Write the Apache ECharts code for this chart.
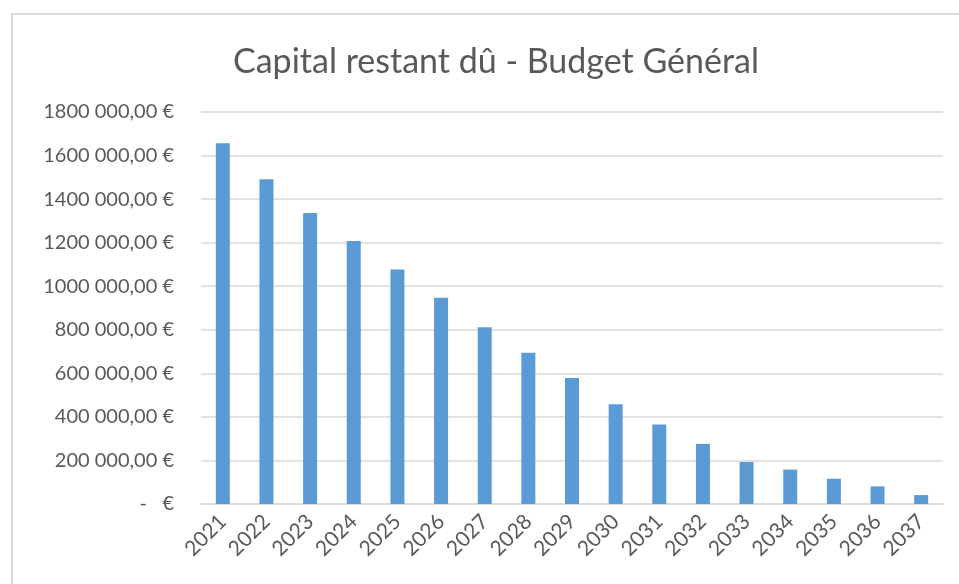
<!DOCTYPE html>
<html>
<head>
<meta charset="utf-8">
<title>Capital restant dû - Budget Général</title>
<script src="https://cdn.jsdelivr.net/npm/echarts@6/dist/echarts.min.js"></script>
<style>
    html, body {
        margin: 0;
        padding: 0;
        background: #ffffff;
    }
    .bar-ec-container {
        width: 959px;
        height: 584px;
    }
</style>
</head>
<body>
<div id="chart" class="bar-ec-container"></div>
<script>
    // années
    var years = ["2021", "2022", "2023", "2024", "2025", "2026", "2027", "2028", "2029",
        "2030", "2031", "2032", "2033", "2034", "2035", "2036", "2037"];
    // capital restant dû (€)
    var capital = [1656000, 1491000, 1336000, 1208000, 1077000, 947000, 812000, 694000, 578000,
        458000, 365000, 276000, 193000, 158000, 116000, 81000, 41000];
    // libellés de l'axe vertical, un par pas de 200 000
    var yTickLabels = ["-   €", "200 000,00 €", "400 000,00 €", "600 000,00 €", "800 000,00 €",
        "1000 000,00 €", "1200 000,00 €", "1400 000,00 €", "1600 000,00 €", "1800 000,00 €"];

    var font = "Lato, 'Open Sans', sans-serif";
    var chart = echarts.init(document.getElementById('chart'));

    var option = {
        animation: false,
        backgroundColor: '#ffffff',
        title: {
            text: 'Capital restant dû - Budget Général',
            left: 491,
            top: 40,
            textAlign: 'center',
            textStyle: {
                color: '#595959',
                fontSize: 34,
                fontWeight: 'normal',
                fontFamily: font
            }
        },
        graphic: [{
            type: 'rect',
            silent: true,
            z: -1,
            shape: {x: 12, y: 14, width: 960, height: 600},
            style: {fill: 'none', stroke: '#d9d9d9', lineWidth: 2}
        }],
        grid: {
            left: 201,
            right: 16,
            top: 112,
            bottom: 80,
            containLabel: false
        },
        xAxis: {
            type: 'category',
            data: years,
            axisTick: {show: false},
            axisLine: {
                show: true,
                lineStyle: {color: '#d9d9d9', width: 1.5}
            },
            axisLabel: {
                rotate: 45,
                margin: 14,
                color: '#595959',
                fontSize: 21,
                fontFamily: font
            }
        },
        yAxis: {
            type: 'value',
            min: 0,
            max: 1800000,
            interval: 200000,
            axisLine: {show: false},
            axisTick: {show: false},
            axisLabel: {
                margin: 27,
                color: '#595959',
                fontSize: 20,
                fontFamily: font,
                formatter: function (v) {
                    return yTickLabels[Math.round(v / 200000)];
                }
            },
            splitLine: {
                lineStyle: {color: '#d9d9d9', width: 1.5}
            }
        },
        series: [{
            type: 'bar',
            data: capital,
            barWidth: 14,
            itemStyle: {color: '#5b9bd5'}
        }]
    };

    chart.setOption(option, true);
</script>
</body>
</html>
